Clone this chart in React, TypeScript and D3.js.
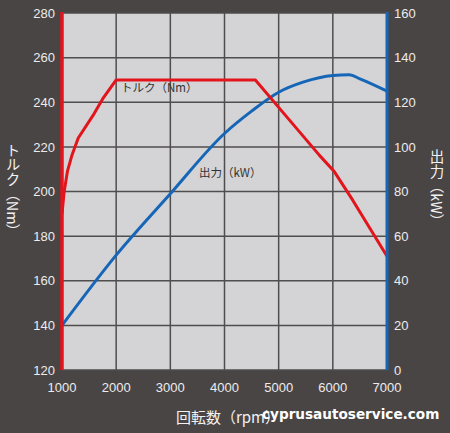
import React from "react";
import * as d3 from "d3";

const rpmTicks = [1000, 2000, 3000, 4000, 5000, 6000, 7000];
const torqueTicks = [120, 140, 160, 180, 200, 220, 240, 260, 280];
const powerTicks = [0, 20, 40, 60, 80, 100, 120, 140, 160];

const torqueRpm = [1000, 1040, 1100, 1180, 1300, 1570, 1750, 2000, 4570, 5000, 5750, 6030, 6370, 7000];
const torqueNm = [190, 200, 209, 216, 224, 234, 241.5, 250, 250, 237.7, 216.3, 208.8, 196, 171];

const powerRpm = [1000, 2000, 3000, 4000, 4500, 5000, 5450, 6000, 6300, 6500, 7000];
const powerKw = [20, 51.5, 79, 106, 116, 124.5, 129, 132, 132.3, 130.5, 125];

const W = 450;
const H = 433;
const BG = "#4a4545";
const PLOT = "#d4d4d6";
const GRID = "#4f4d4d";
const RED = "#e3141c";
const BLUE = "#1666b8";
const TICK = "#ececec";

export default function App() {
  const x = d3.scaleLinear().domain([1000, 7000]).range([62, 387]);
  const yL = d3.scaleLinear().domain([120, 280]).range([370, 13]);
  const yR = d3.scaleLinear().domain([0, 160]).range([370, 13]);

  const torque = torqueRpm.map((r, i) => [r, torqueNm[i]] as [number, number]);
  const power = powerRpm.map((r, i) => [r, powerKw[i]] as [number, number]);

  const torqueLine = d3
    .line<[number, number]>()
    .x((d) => x(d[0]))
    .y((d) => yL(d[1]))
    .curve(d3.curveLinear);
  const powerLine = d3
    .line<[number, number]>()
    .x((d) => x(d[0]))
    .y((d) => yR(d[1]))
    .curve(d3.curveMonotoneX);

  const font = "'Liberation Sans', Arial, sans-serif";
  const jp = "'Noto Sans CJK JP', sans-serif";

  return (
    <svg
      width={W}
      height={H}
      style={{ position: "absolute", left: 0, top: 0, display: "block" }}
    >
      <rect x={0} y={0} width={W} height={H} fill={BG} />
      <rect
        x={x(1000)}
        y={yL(280)}
        width={x(7000) - x(1000)}
        height={yL(120) - yL(280)}
        fill={PLOT}
      />
      {rpmTicks.map((t) => (
        <line
          key={"gx" + t}
          x1={x(t)}
          x2={x(t)}
          y1={yL(280)}
          y2={yL(120)}
          stroke={GRID}
          strokeWidth={1.5}
        />
      ))}
      {torqueTicks.map((t) => (
        <line
          key={"gy" + t}
          x1={x(1000)}
          x2={x(7000)}
          y1={yL(t)}
          y2={yL(t)}
          stroke={GRID}
          strokeWidth={1.5}
        />
      ))}
      <path d={powerLine(power) || ""} fill="none" stroke={BLUE} strokeWidth={3} strokeLinejoin="round" />
      <path d={torqueLine(torque) || ""} fill="none" stroke={RED} strokeWidth={3} strokeLinejoin="round" />
      <line x1={x(1000)} x2={x(1000)} y1={yL(280) - 1} y2={yL(120)} stroke={RED} strokeWidth={3.5} />
      <line x1={x(7000)} x2={x(7000)} y1={yR(160) - 1} y2={yR(0)} stroke={BLUE} strokeWidth={3} />

      {torqueTicks.map((t) => (
        <text
          key={"tl" + t}
          x={55}
          y={yL(t)}
          dy="0.36em"
          textAnchor="end"
          fill={TICK}
          fontFamily={font}
          fontSize={13}
        >
          {t}
        </text>
      ))}
      {powerTicks.map((t) => (
        <text
          key={"tr" + t}
          x={394}
          y={yR(t)}
          dy="0.36em"
          textAnchor="start"
          fill={TICK}
          fontFamily={font}
          fontSize={13}
        >
          {t}
        </text>
      ))}
      {rpmTicks.map((t) => (
        <text
          key={"tx" + t}
          x={x(t)}
          y={387}
          dy="0.36em"
          textAnchor="middle"
          fill={TICK}
          fontFamily={font}
          fontSize={13}
        >
          {t}
        </text>
      ))}

      <text x={121} y={88} dy="0.36em" fill="#333" fontFamily={jp} fontSize={11.5}>
        トルク（Nm）
      </text>
      <text x={199} y={173} dy="0.36em" fill="#333" fontFamily={jp} fontSize={11.5}>
        出力（kW）
      </text>

      <text
        x={13}
        y={191}
        textAnchor="middle"
        fill="#f2f2f2"
        fontFamily={jp}
        fontSize={14.5}
        style={{ writingMode: "vertical-rl", textOrientation: "mixed" } as any}
      >
        トルク（Nm）
      </text>
      <text
        x={437}
        y={189}
        textAnchor="middle"
        fill="#f2f2f2"
        fontFamily={jp}
        fontSize={14.5}
        style={{ writingMode: "vertical-rl", textOrientation: "mixed" } as any}
      >
        出力（kW）
      </text>

      <text x={176} y={418} dy="0.36em" fill="#f2f2f2" fontFamily={jp} fontSize={15}>
        回転数（rpm）
      </text>
      <text
        x={262}
        y={414}
        dy="0.36em"
        fill="#ffffff"
        fontFamily="'DejaVu Sans', sans-serif"
        fontWeight="bold"
        fontSize={13.6}
      >
        cyprusautoservice.com
      </text>
    </svg>
  );
}
